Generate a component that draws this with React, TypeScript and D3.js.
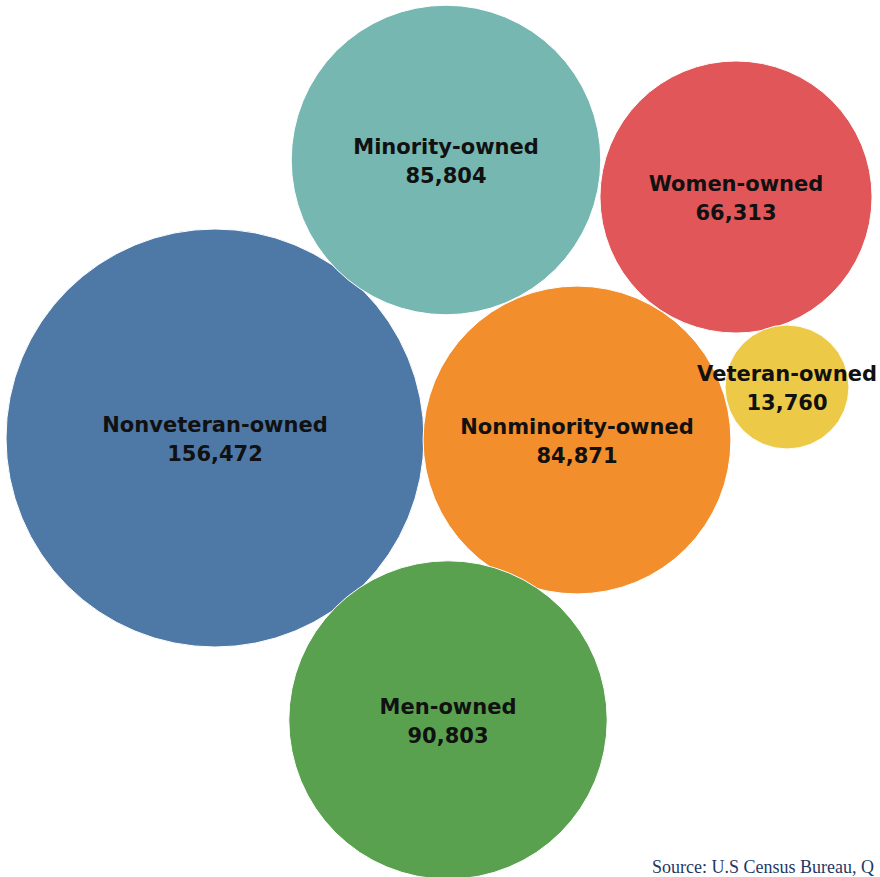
import { useEffect, useRef } from 'react';
import * as d3 from 'd3';

const categories = [
  'Nonveteran-owned',
  'Minority-owned',
  'Women-owned',
  'Nonminority-owned',
  'Veteran-owned',
  'Men-owned',
];
const firms = [156472, 85804, 66313, 84871, 13760, 90803];
const colors = ['#4e79a7', '#76b7b2', '#e15759', '#f28e2b', '#edc948', '#59a14f'];
// bubble centres in the packed layout (px)
const centerX = [215, 446, 736, 577, 787, 448];
const centerY = [438, 160, 197, 440, 387, 720];

const W = 880;
const H = 877;

export default function App() {
  const ref = useRef<SVGSVGElement | null>(null);

  useEffect(() => {
    if (!ref.current) return;
    const svg = d3.select(ref.current);
    svg.selectAll('*').remove();

    const r = d3.scaleSqrt().domain([0, d3.max(firms) as number]).range([0, 209]);
    const fmt = d3.format(',');

    const nodes = categories.map((name, i) => ({
      name,
      value: firms[i],
      color: colors[i],
      x: centerX[i],
      y: centerY[i],
    }));

    const bubble = svg
      .append('g')
      .selectAll('g.bubble')
      .data(nodes)
      .join('g')
      .attr('class', 'bubble')
      .attr('transform', (d) => `translate(${d.x},${d.y})`);

    bubble
      .append('circle')
      .attr('r', (d) => r(d.value))
      .attr('fill', (d) => d.color)
      .attr('stroke', '#ffffff')
      .attr('stroke-width', 1);

    const label = bubble
      .append('text')
      .attr('text-anchor', 'middle')
      .attr('font-family', '"DejaVu Sans", Verdana, sans-serif')
      .attr('font-weight', 700)
      .attr('font-size', 21)
      .attr('fill', '#111');

    label.append('tspan').attr('x', 0).attr('y', -6).text((d) => d.name);
    label.append('tspan').attr('x', 0).attr('y', 23).text((d) => fmt(d.value));

    svg
      .append('text')
      .attr('x', 652)
      .attr('y', 873)
      .attr('font-family', '"Liberation Serif", "Times New Roman", serif')
      .attr('font-size', 18)
      .attr('fill', '#1f3864')
      .text('Source: U.S Census Bureau, Q');
  }, []);

  return (
    <svg
      ref={ref}
      width={W}
      height={H}
      viewBox={`0 0 ${W} ${H}`}
      style={{ position: 'absolute', left: 0, top: 0, background: '#fff' }}
    />
  );
}
